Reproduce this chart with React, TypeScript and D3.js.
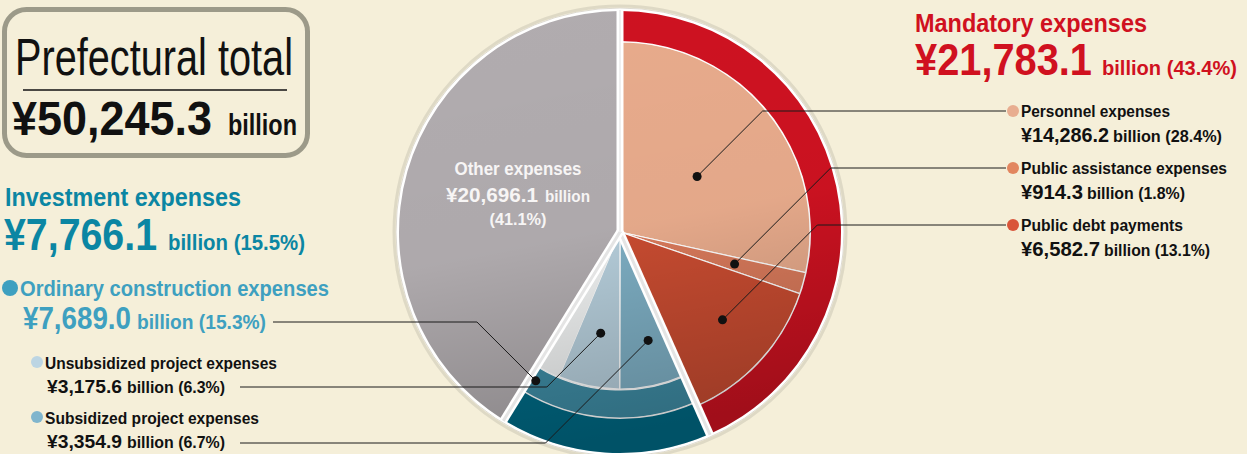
import { useEffect, useRef } from "react";
import * as d3 from "d3";

const width = 1247;
const height = 454;
const cx = 620;
const cy = 232;

// budget values (billion yen) and shares (%)
const totalValue = 50245.3;
const groupNames = ["Mandatory expenses", "Investment expenses", "Other expenses"];
const groupValues = [21783.1, 7766.1, 20696.1];
const groupShares = [43.4, 15.5, 41.1];

const mandatoryNames = ["Personnel expenses", "Public assistance expenses", "Public debt payments"];
const mandatoryValues = [14286.2, 914.3, 6582.7];
const mandatoryShares = [28.4, 1.8, 13.1];

const ordinaryName = "Ordinary construction expenses";
const ordinaryValue = 7689.0;
const ordinaryShare = 15.3;

const projectNames = ["Unsubsidized project expenses", "Subsidized project expenses"];
const projectValues = [3175.6, 3354.9];
const projectShares = [6.3, 6.7];

const FONT = "'Liberation Sans Narrow', 'Liberation Sans', Arial, sans-serif";
const fmt = d3.format(",.1f");

function App() {
  const d3Node = useRef(null);

  useEffect(() => {
    const root = d3.select(d3Node.current);
    root.selectAll("*").remove();
    const svg = root
      .append("svg")
      .attr("width", width)
      .attr("height", height)
      .style("position", "absolute")
      .style("left", 0)
      .style("top", 0)
      .style("background", "#f5efd9");

    const defs = svg.append("defs");
    const shade = defs
      .append("linearGradient")
      .attr("id", "shade")
      .attr("x1", 0.1)
      .attr("y1", 0)
      .attr("x2", 0.3)
      .attr("y2", 1);
    shade.append("stop").attr("offset", "0").attr("stop-color", "#000").attr("stop-opacity", 0);
    shade.append("stop").attr("offset", "0.55").attr("stop-color", "#000").attr("stop-opacity", 0.02);
    shade.append("stop").attr("offset", "1").attr("stop-color", "#000").attr("stop-opacity", 0.22);

    const txt = (g, s, x, y, size, w, weight, fill, anchor = "start") =>
      g
        .append("text")
        .attr("x", x)
        .attr("y", y)
        .attr("font-family", FONT)
        .attr("font-size", size)
        .attr("font-weight", weight)
        .attr("fill", fill)
        .attr("text-anchor", anchor)
        .attr("textLength", w)
        .attr("lengthAdjust", "spacingAndGlyphs")
        .text(s);

    // ---- pie ----
    const pg = svg.append("g").attr("transform", `translate(${cx},${cy})`);
    pg.append("circle").attr("r", 226).attr("fill", "none").attr("stroke", "rgba(0,0,0,0.09)").attr("stroke-width", 3);
    pg.append("circle").attr("r", 224).attr("fill", "#fff").attr("stroke", "#d6d2c8").attr("stroke-width", 0.8);

    const groups = d3.pie().sort(null)(groupValues);
    const [gMand, gInv, gOther] = groups;

    const arc = (r0, r1) => d3.arc().innerRadius(r0).outerRadius(r1);

    // other expenses
    pg.append("path").attr("d", arc(0, 221)(gOther)).attr("fill", "#b1acaf");

    // mandatory: inner slices and outer ring
    const mandColors = ["#e8ab8c", "#d97a5b", "#c94c31"];
    const mandArcs = d3
      .pie()
      .sort(null)
      .startAngle(gMand.startAngle)
      .endAngle(gMand.endAngle)(mandatoryValues);
    pg.selectAll(".mand")
      .data(mandArcs)
      .enter()
      .append("path")
      .attr("d", arc(0, 190))
      .attr("fill", (d, i) => mandColors[i])
      .attr("stroke", "#fff")
      .attr("stroke-width", 1.2);
    pg.append("path").attr("d", arc(191, 221)(gMand)).attr("fill", "#ce1221");

    // investment: projects (pie order clockwise: subsidized, unsubsidized, rest)
    const invInnerValues = [
      projectValues[1],
      projectValues[0],
      ordinaryValue - projectValues[0] - projectValues[1],
      groupValues[1] - ordinaryValue,
    ];
    const invColors = ["#7eafc4", "#b6cedb", "#f0f2f2", "#f0f2f2"];
    const invArcs = d3
      .pie()
      .sort(null)
      .startAngle(gInv.startAngle)
      .endAngle(gInv.endAngle)(invInnerValues);
    pg.selectAll(".inv")
      .data(invArcs)
      .enter()
      .append("path")
      .attr("d", arc(0, 157))
      .attr("fill", (d, i) => invColors[i])
      .attr("stroke", (d, i) => (i < 2 ? "#fff" : "none"))
      .attr("stroke-width", 1.2);
    const ordArcs = d3
      .pie()
      .sort(null)
      .startAngle(gInv.startAngle)
      .endAngle(gInv.endAngle)([ordinaryValue, groupValues[1] - ordinaryValue]);
    pg.append("path").attr("d", arc(158, 186)(ordArcs[0])).attr("fill", "#3e8ba3").attr("stroke", "#fff").attr("stroke-width", 1.2);
    pg.append("path").attr("d", arc(187, 221)(gInv)).attr("fill", "#006984");

    // shading overlay
    pg.append("circle").attr("r", 221).attr("fill", "url(#shade)");

    // gaps between groups
    [gMand.startAngle, gMand.endAngle, gInv.endAngle].forEach((a, i) => {
      const w = i === 0 ? 7 : 8;
      const p = d3.pointRadial(a, 222);
      pg.append("line").attr("x1", 0).attr("y1", 0).attr("x2", p[0]).attr("y2", p[1]).attr("stroke", "#fff").attr("stroke-width", w);
      pg.append("line")
        .attr("x1", 0)
        .attr("y1", 0)
        .attr("x2", p[0])
        .attr("y2", p[1])
        .attr("stroke", "#e4e4e4")
        .attr("stroke-width", i === 0 ? 1.2 : 3);
    });

    // ---- leaders ----
    const lead = svg.append("g").attr("fill", "none").attr("stroke", "#1a1a1a").attr("stroke-width", 1);
    const dotAt = (d, f, r) => {
      const p = d3.pointRadial(d.startAngle + f * (d.endAngle - d.startAngle), r);
      return [cx + p[0], cy + p[1]];
    };
    const leader = (dot, ly, lx) => {
      const dir = lx > dot[0] ? 1 : -1;
      const ex = dot[0] + dir * Math.abs(ly - dot[1]);
      lead.append("polyline").attr("points", `${dot[0]},${dot[1]} ${ex},${ly} ${lx},${ly}`);
      svg.append("circle").attr("cx", dot[0]).attr("cy", dot[1]).attr("r", 4.5).attr("fill", "#111");
    };

    const mandDots = [
      dotAt(mandArcs[0], 0.53, 95),
      dotAt(mandArcs[1], 0.5, 119),
      dotAt(mandArcs[2], 0.46, 135),
    ];
    const mandLineY = [111, 168, 225];
    mandDots.forEach((p, i) => leader(p, mandLineY[i], 1006));

    leader(dotAt(ordArcs[0], 0.97, 171), 322, 273);
    leader(dotAt(invArcs[1], 0.47, 103), 387, 240);
    leader(dotAt(invArcs[0], 0.39, 112), 443, 240);

    // ---- texts ----
    const t = svg.append("g");

    // other label in pie
    txt(t, groupNames[2], 518, 175, 18, 127, 700, "#f7f5f5", "middle");
    txt(t, `¥${fmt(groupValues[2])}`, 446, 202, 21, 92, 700, "#f7f5f5");
    txt(t, "billion", 545, 202, 16, 45, 700, "#f7f5f5");
    txt(t, `(${groupShares[2]}%)`, 518, 225, 16, 57, 700, "#f7f5f5", "middle");

    // total box
    t.append("rect")
      .attr("x", 4.5)
      .attr("y", 9.5)
      .attr("width", 303)
      .attr("height", 146)
      .attr("rx", 22)
      .attr("fill", "none")
      .attr("stroke", "#9c9a89")
      .attr("stroke-width", 5);
    txt(t, "Prefectural total", 15, 75, 52, 278, 400, "#111");
    t.append("line").attr("x1", 23).attr("x2", 287).attr("y1", 90).attr("y2", 90).attr("stroke", "#111").attr("stroke-width", 1.5);
    txt(t, `¥${fmt(totalValue)}`, 12, 135, 48, 200, 700, "#111");
    txt(t, "billion", 228, 135, 30, 69, 700, "#111");

    // investment
    const invCol = "#0b86a3";
    txt(t, groupNames[1], 5, 206, 25, 236, 700, invCol);
    txt(t, `¥${fmt(groupValues[1])}`, 4, 250, 44, 153, 700, invCol);
    txt(t, `billion (${groupShares[1]}%)`, 168, 250, 22, 137, 700, invCol);

    const ordCol = "#3ea0c0";
    t.append("circle").attr("cx", 10).attr("cy", 288).attr("r", 8).attr("fill", ordCol);
    txt(t, ordinaryName, 20, 296, 22, 309, 700, ordCol);
    txt(t, `¥${fmt(ordinaryValue)}`, 23, 329, 31, 108, 700, ordCol);
    txt(t, `billion (${ordinaryShare}%)`, 137, 329, 21, 129, 700, ordCol);

    const projDotCol = ["#bcd5e3", "#80b5cd"];
    const projY = [362, 417];
    const projNameW = [232, 214];
    projectNames.forEach((n, i) => {
      const y = projY[i];
      t.append("circle").attr("cx", 37).attr("cy", y).attr("r", 6).attr("fill", projDotCol[i]);
      txt(t, n, 45, y + 7, 17, projNameW[i], 700, "#111");
      txt(t, `¥${fmt(projectValues[i])}`, 47, y + 31, 19, 75, 700, "#111");
      txt(t, `billion (${projectShares[i]}%)`, 127, y + 31, 16, 98, 700, "#111");
    });

    // mandatory
    const mandCol = "#d0111f";
    txt(t, groupNames[0], 915, 32, 26, 232, 700, mandCol);
    txt(t, `¥${fmt(groupValues[0])}`, 915, 75, 44, 177, 700, mandCol);
    txt(t, `billion (${groupShares[0]}%)`, 1102, 75, 21, 135, 700, mandCol);

    const mandDotCol = ["#e8ad90", "#e2865f", "#d9553a"];
    const mandNameW = [149, 206, 162];
    const mandValW = [88, 62, 79];
    const mandRestW = [109, 98, 106];
    mandatoryNames.forEach((n, i) => {
      const y = mandLineY[i];
      t.append("circle").attr("cx", 1013).attr("cy", y).attr("r", 6).attr("fill", mandDotCol[i]);
      txt(t, n, 1021, y + 6, 16, mandNameW[i], 700, "#111");
      txt(t, `¥${fmt(mandatoryValues[i])}`, 1021, y + 30.5, 19.5, mandValW[i], 700, "#111");
      txt(t, `billion (${mandatoryShares[i]}%)`, 1021 + mandValW[i] + 4, y + 30.5, 16, mandRestW[i], 700, "#111");
    });
  }, []);

  return <div ref={d3Node} />;
}

export default App;
